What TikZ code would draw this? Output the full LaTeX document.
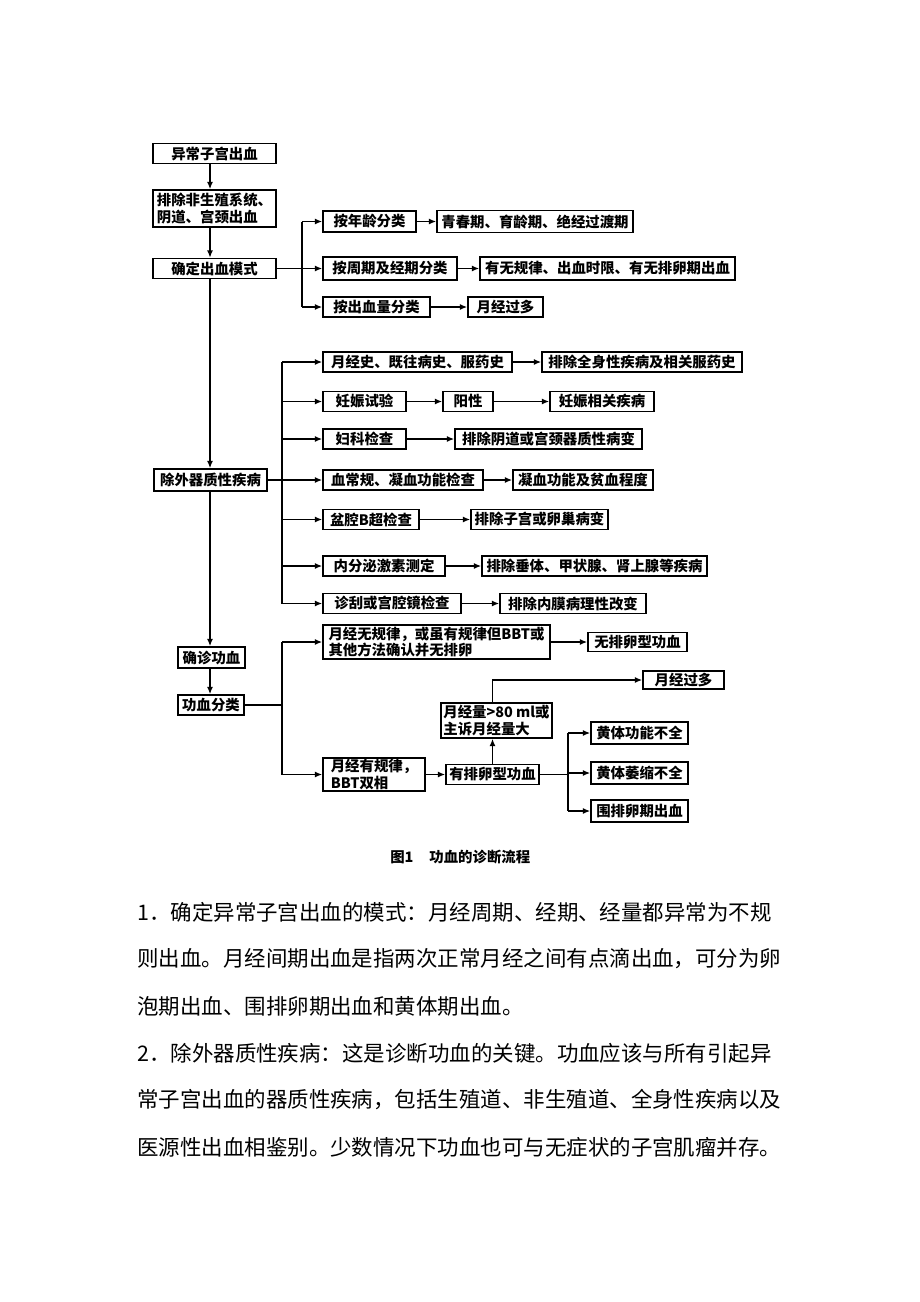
\documentclass[tikz,border=0pt]{standalone}
\usepackage{fontspec}
\newfontfamily\cjk{Noto Sans CJK SC}
\usetikzlibrary{arrows.meta}

% stretchable glue between CJK characters, for justified lines
\XeTeXinterchartokenstate=1
\newcommand\cjkglue{\hskip 0pt plus 4pt minus 0.6pt}
\XeTeXinterchartoks 1 1 = {\cjkglue}
\XeTeXinterchartoks 1 3 = {\cjkglue}
\XeTeXinterchartoks 3 1 = {\cjkglue}
\XeTeXinterchartoks 0 1 = {\cjkglue}
\XeTeXinterchartoks 1 0 = {\cjkglue}
\XeTeXinterchartoks 0 3 = {\cjkglue}

\begin{document}
\begin{tikzpicture}[
    x=0.75pt, y=-0.75pt,
    box/.style={draw=black, line width=1.2pt, inner xsep=2pt, inner ysep=0pt,
      minimum height=20*0.75pt, align=left,
      font=\cjk\bfseries\fontsize{10.8}{12.5}\selectfont},
    bw/.style={minimum width=#1*0.75pt},
    bh/.style={minimum height=#1*0.75pt},
    link/.style={line width=1pt},
    arr/.style={link, -{Latex[length=5.5pt, width=4.5pt]}},
    para/.style={anchor=west, inner sep=0pt, font=\cjk\fontsize{16.1}{16.1}\selectfont}
    ]
    \path[use as bounding box, fill=white] (0,0) rectangle (920,1302);
    \coordinate (sp) at (210,0);
    \coordinate (b1) at (302,0);
    \coordinate (b2) at (282,0);
    \coordinate (b3) at (568,0);

    % main column
    \node[box, bw=123] (abn) at (214.5,153.5) {异常子宫出血};
    \node[box, bw=123, bh=37] (nongen) at (214.5,208.5) {排除非生殖系统、\\阴道、宫颈出血};
    \node[box, bw=123] (mode) at (214.5,268.5) {确定出血模式};
    \node[box, bw=113, bh=22] (organic) at (210.5,480) {除外器质性疾病};
    \node[box, bw=67, bh=21] (confirm) at (211.5,657.5) {确诊功血};
    \node[box, bw=66] (classify) at (211,705) {功血分类};

    % bleeding pattern
    \node[box, bw=93, bh=21] (age) at (369.5,221.5) {按年龄分类};
    \node[box, bw=134, bh=23] (cycle) at (390,268.5) {按周期及经期分类};
    \node[box, bw=107] (volume) at (376.5,307) {按出血量分类};
    \node[box, bw=196, bh=22] (agecls) at (535,221.5) {青春期、育龄期、绝经过渡期};
    \node[box, bw=255, bh=23] (cyclecls) at (607.5,268.5) {有无规律、出血时限、有无排卵期出血};
    \node[box, bw=75] (volcls) at (505.5,307) {月经过多};

    % organic causes
    \node[box, bw=189] (chk1) at (417.5,362) {月经史、既往病史、服药史};
    \node[box, bw=83] (chk2) at (364.5,401.5) {妊娠试验};
    \node[box, bw=83] (chk3) at (364.5,439) {妇科检查};
    \node[box, bw=160] (chk4) at (403,480) {血常规、凝血功能检查};
    \node[box, bw=96] (chk5) at (371,519.5) {盆腔B超检查};
    \node[box, bw=122] (chk6) at (384,566) {内分泌激素测定};
    \node[box, bw=138] (chk7) at (392,603.5) {诊刮或宫腔镜检查};
    \node[box, bw=200] (res1) at (642,362) {排除全身性疾病及相关服药史};
    \node[box, bw=50] (pos) at (468,401.5) {阳性};
    \node[box, bw=104] (res2) at (602,401.5) {妊娠相关疾病};
    \node[box, bw=187] (res3) at (548.5,439) {排除阴道或宫颈器质性病变};
    \node[box, bw=140] (res4) at (583,480) {凝血功能及贫血程度};
    \node[box, bw=137] (res5) at (539.5,519.5) {排除子宫或卵巢病变};
    \node[box, bw=225] (res6) at (594.5,566) {排除垂体、甲状腺、肾上腺等疾病};
    \node[box, bw=146] (res7) at (573,603.5) {排除内膜病理性改变};

    % classification
    \node[box, bw=227, bh=34] (anovc) at (436.5,642) {月经无规律，或虽有规律但BBT或\\其他方法确认并无排卵};
    \node[box, bw=99, bh=19] (anov) at (637.5,642) {无排卵型功血};
    \node[box, bw=102, bh=33] (ovc) at (374,774.5) {月经有规律，\\BBT双相};
    \node[box, bw=93] (ovul) at (492.5,774.5) {有排卵型功血};
    \node[box, bw=111, bh=35] (heavy) at (496.5,720.5) {月经量>80 ml或\\主诉月经量大};
    \node[box, bw=81, bh=18] (menor) at (683.5,680) {月经过多};
    \node[box, bw=97, bh=22] (lpd1) at (639.5,733) {黄体功能不全};
    \node[box, bw=97, bh=22] (lpd2) at (639.5,773) {黄体萎缩不全};
    \node[box, bw=97, bh=22] (lpd3) at (639.5,811) {围排卵期出血};

    % connectors
    \draw[arr] (abn.south -| sp) -- (nongen.north -| sp);
    \draw[arr] (nongen.south -| sp) -- (mode.north -| sp);
    \draw[arr] (mode.south -| sp) -- (organic.north -| sp);
    \draw[arr] (organic.south -| sp) -- (confirm.north -| sp);
    \draw[arr] (confirm.south -| sp) -- (classify.north -| sp);

    \draw[arr] (mode.east) -- (cycle.west);
    \draw[link] (b1 |- age.west) -- (b1 |- volume.west);
    \draw[arr] (b1 |- age.west) -- (age.west);
    \draw[arr] (b1 |- volume.west) -- (volume.west);
    \draw[arr] (age.east) -- (agecls.west);
    \draw[arr] (cycle.east) -- (cyclecls.west);
    \draw[arr] (volume.east) -- (volcls.west);

    \draw[arr] (organic.east) -- (chk4.west);
    \draw[link] (b2 |- chk1.west) -- (b2 |- chk7.west);
    \foreach \i in {1,2,3,5,6,7}
      \draw[arr] (b2 |- chk\i.west) -- (chk\i.west);
    \foreach \i in {1,3,4,5,6,7}
      \draw[arr] (chk\i.east) -- (res\i.west);
    \draw[arr] (chk2.east) -- (pos.west);
    \draw[arr] (pos.east) -- (res2.west);

    \draw[link] (classify.east) -- (classify.east -| b2);
    \draw[link] (b2 |- anovc.west) -- (b2 |- ovc.west);
    \draw[arr] (b2 |- anovc.west) -- (anovc.west);
    \draw[arr] (b2 |- ovc.west) -- (ovc.west);
    \draw[arr] (anovc.east) -- (anov.west);
    \draw[arr] (ovc.east) -- (ovul.west);
    \draw[arr] (ovul.north) -- (ovul.north |- heavy.south);
    \draw[arr] (ovul.north |- heavy.north) |- (menor.west);
    \draw[link] (ovul.east) -- (ovul.east -| b3);
    \draw[link] (b3 |- lpd1.west) -- (b3 |- lpd3.west);
    \foreach \i in {1,2,3}
      \draw[arr] (b3 |- lpd\i.west) -- (lpd\i.west);

    % caption and text
    \node[anchor=west, inner sep=0pt, font=\cjk\bfseries\fontsize{10.8}{12}\selectfont]
      (cap) at (390,857) {图1\hspace{12pt}功血的诊断流程};
    \node[para] (p1) at (137,912) {\makebox[483.75pt][s]{1．确定异常子宫出血的模式：月经周期、经期、经量都异常为不规}};
    \node[para] (p2) at (137,959) {\makebox[483.75pt][s]{则出血。月经间期出血是指两次正常月经之间有点滴出血，可分为卵}};
    \node[para] (p3) at (137,1006) {泡期出血、围排卵期出血和黄体期出血。};
    \node[para] (p4) at (137,1053) {\makebox[483.75pt][s]{2．除外器质性疾病：这是诊断功血的关键。功血应该与所有引起异}};
    \node[para] (p5) at (137,1100) {\makebox[483.75pt][s]{常子宫出血的器质性疾病，包括生殖道、非生殖道、全身性疾病以及}};
    \node[para] (p6) at (137,1147) {\makebox[483.75pt][s]{医源性出血相鉴别。少数情况下功血也可与无症状的子宫肌瘤并存。}};
  \end{tikzpicture}
\end{document}
